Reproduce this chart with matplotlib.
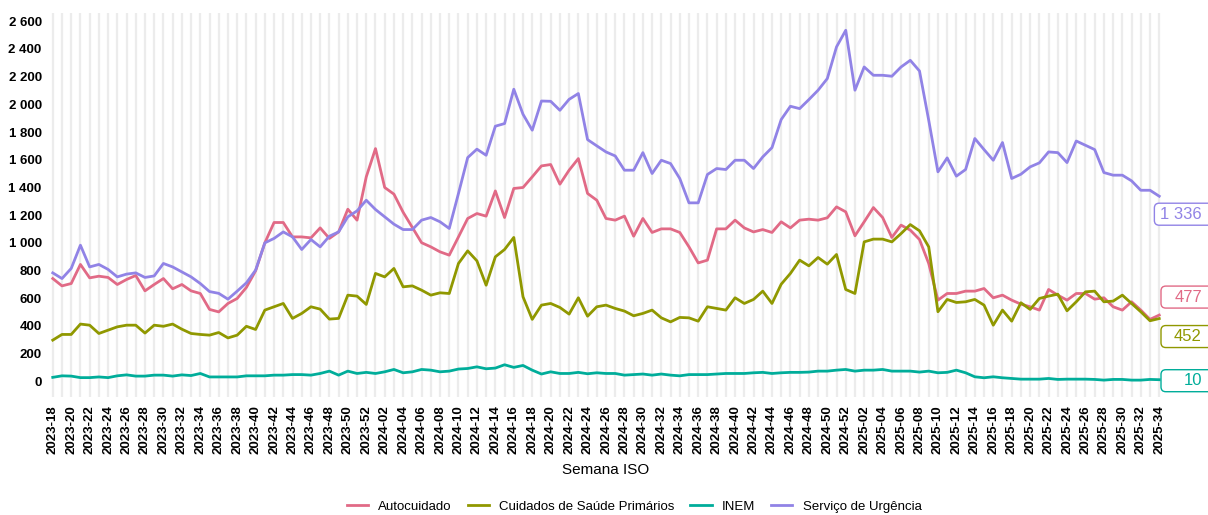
import matplotlib.pyplot as plt
from matplotlib.patches import FancyBboxPatch
import numpy as np

plt.rcParams['font.family'] = ['Liberation Sans', 'DejaVu Sans']

# ISO weeks 2023-18 .. 2025-34
weeks = ([f'2023-{w:02d}' for w in range(18, 53)]
         + [f'2024-{w:02d}' for w in range(1, 53)]
         + [f'2025-{w:02d}' for w in range(1, 35)])

autocuidado = [
    741, 688, 705, 843, 746, 758, 749, 698, 734, 763,
    652, 698, 741, 667, 698, 652, 633, 518, 500, 561,
    597, 677, 797, 999, 1146, 1146, 1042, 1042, 1035, 1107,
    1031, 1078, 1242, 1163, 1476, 1680, 1399, 1351, 1220, 1110,
    1000, 970, 934, 910, 1042, 1175, 1211, 1192, 1374, 1182,
    1392, 1399, 1476, 1555, 1565, 1423, 1524, 1608, 1356, 1307,
    1175, 1163, 1192, 1047, 1175, 1074, 1100, 1100, 1074, 970,
    854, 874, 1100, 1100, 1163, 1107, 1078, 1095, 1074, 1151,
    1107, 1163, 1170, 1163, 1180, 1259, 1223, 1050, 1151, 1254,
    1182, 1038, 1127, 1091, 1023, 850, 585, 633, 633, 650,
    650, 669, 602, 621, 585, 556, 537, 513, 662, 621,
    585, 633, 633, 592, 602, 537, 513, 573, 513, 446,
    477]

cuidados_primarios = [
    296, 337, 337, 412, 404, 344, 368, 392, 404, 404,
    347, 404, 396, 412, 375, 344, 337, 332, 351, 312,
    332, 396, 373, 513, 537, 561, 453, 489, 537, 520,
    448, 453, 621, 614, 554, 778, 753, 814, 681, 688,
    657, 621, 638, 633, 850, 941, 869, 693, 898, 951,
    1038, 609, 446, 549, 561, 532, 484, 602, 469, 537,
    549, 525, 506, 472, 489, 513, 457, 428, 460, 457,
    433, 537, 525, 513, 602, 561, 590, 650, 561, 700,
    778, 874, 833, 893, 845, 915, 662, 633, 1006, 1026,
    1026, 1006, 1066, 1131, 1086, 970, 501, 590, 568, 573,
    590, 549, 404, 513, 433, 566, 518, 597, 614, 628,
    508, 573, 645, 650, 573, 578, 621, 561, 501, 436,
    452]

inem = [
    27, 38, 36, 25, 25, 30, 25, 38, 45, 36,
    36, 43, 43, 36, 45, 40, 55, 30, 30, 30,
    30, 38, 38, 38, 43, 43, 47, 47, 43, 55,
    72, 43, 72, 55, 63, 55, 67, 84, 60, 67,
    84, 79, 67, 72, 87, 91, 103, 89, 94, 118,
    99, 113, 79, 51, 67, 55, 55, 63, 53, 60,
    55, 55, 43, 47, 51, 43, 51, 43, 38, 47,
    47, 47, 51, 55, 55, 55, 60, 63, 55, 60,
    63, 63, 65, 72, 72, 79, 84, 72, 79, 79,
    84, 72, 72, 72, 65, 72, 60, 63, 79, 60,
    31, 24, 31, 24, 19, 14, 14, 14, 19, 12,
    14, 14, 14, 12, 7, 12, 12, 7, 7, 12,
    10]

urgencia = [
    782, 741, 814, 982, 825, 843, 807, 753, 773, 782,
    749, 760, 850, 825, 789, 753, 705, 647, 634, 592,
    650, 710, 802, 999, 1031, 1078, 1042, 951, 1023, 970,
    1047, 1078, 1187, 1230, 1307, 1240, 1187, 1134, 1095, 1095,
    1163, 1182, 1151, 1103, 1356, 1615, 1676, 1632, 1842, 1861,
    2109, 1928, 1813, 2024, 2022, 1957, 2036, 2078, 1745, 1700,
    1656, 1627, 1524, 1524, 1651, 1500, 1596, 1572, 1464, 1288,
    1288, 1493, 1536, 1529, 1596, 1596, 1536, 1620, 1687, 1890,
    1986, 1969, 2034, 2102, 2186, 2415, 2535, 2102, 2270, 2210,
    2210, 2203, 2270, 2318, 2241, 1885, 1512, 1613, 1481, 1529,
    1753, 1673, 1596, 1724, 1464, 1495, 1548, 1577, 1656, 1651,
    1579, 1735, 1704, 1673, 1507, 1488, 1488, 1447, 1379, 1379,
    1336]

series = {
    'Autocuidado': autocuidado,
    'Cuidados de Saúde Primários': cuidados_primarios,
    'INEM': inem,
    'Serviço de Urgência': urgencia,
}
colors = ['#E16A86', '#909800', '#00AD9A', '#9183E6']
# vertical nudge (pixels) of the end labels so they don't overlap
label_nudge = {'Autocuidado': 18, 'Cuidados de Saúde Primários': -18,
               'INEM': -1, 'Serviço de Urgência': -18}


def fmt(v):
    return f'{v:,.0f}'.replace(',', ' ')


x = np.arange(len(weeks))

W, H = 1208, 515
fig = plt.figure(figsize=(W / 100, H / 100), dpi=100)
ax = fig.add_axes([50 / W, 1 - 397 / H, 1112 / W, 384 / H])

# light vertical band for every week
for xi in x:
    ax.axvline(xi, color='#ececec', lw=1.6, zorder=0)

for (name, vals), col in zip(series.items(), colors):
    ax.plot(x, vals, color=col, lw=2.0, label=name, zorder=3,
            solid_joinstyle='round')

ax.set_xlim(-0.3, len(weeks) - 0.7)
ax.set_ylim(-115, 2660)
ax.set_yticks(np.arange(0, 2601, 200))
ax.set_yticklabels([fmt(v) for v in range(0, 2601, 200)],
                   fontsize=9.5, fontweight='bold')
ax.set_xticks(x[::2])
ax.set_xticklabels(weeks[::2], rotation=90, fontsize=9.5, fontweight='bold')
ax.tick_params(length=0, pad=6)
for s in ax.spines.values():
    s.set_visible(False)
ax.grid(False)

ax.set_xlabel('Semana ISO', fontsize=11, labelpad=6)

# end-of-line value labels in rounded boxes
fig.canvas.draw()
renderer = fig.canvas.get_renderer()
for (name, vals), col in zip(series.items(), colors):
    px, py = ax.transData.transform((x[-1], vals[-1]))
    ly = py + label_nudge[name]
    t = fig.text(1202 / W, ly / H, fmt(vals[-1]), ha='right', va='center',
                 fontsize=12, color=col, zorder=5)
    bb = t.get_window_extent(renderer)
    left = min(1161, bb.x0 - 6)
    fig.patches.append(FancyBboxPatch(
        (left / W, (ly - 11) / H), (W + 10 - left) / W, 22 / H,
        boxstyle='round,pad=0,rounding_size=0.004', transform=fig.transFigure,
        fc='white', ec=col, lw=1, zorder=4, mutation_aspect=W / H))

handles, labels = ax.get_legend_handles_labels()
fig.legend(handles, labels, loc='lower center', bbox_to_anchor=(0.525, -0.019),
           ncol=4, frameon=False, fontsize=9.5, handlelength=1.6,
           columnspacing=1.2)

plt.savefig('out.png', dpi=100)
